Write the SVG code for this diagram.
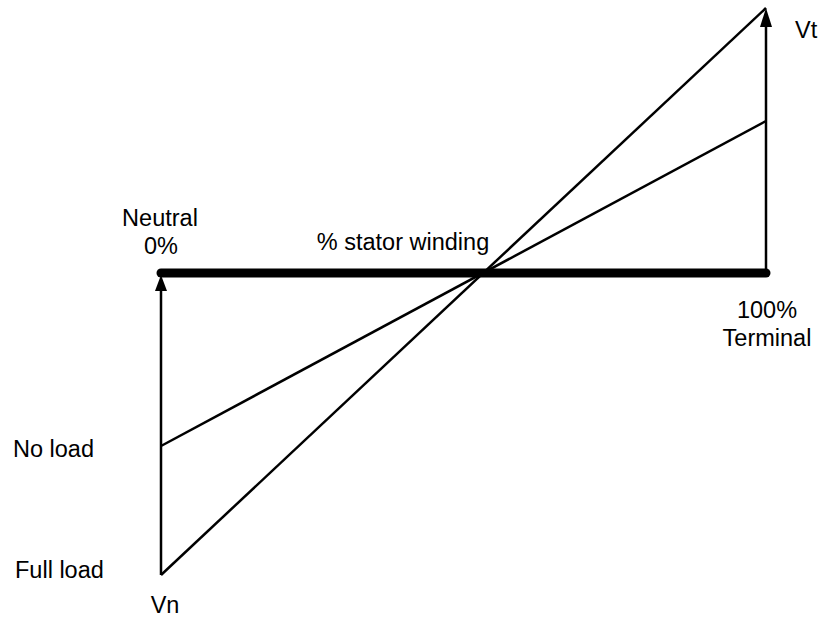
<svg xmlns="http://www.w3.org/2000/svg" width="819" height="617" viewBox="0 0 819 617">
  <style>
    .lbl { font-family: "Liberation Sans", Arial, sans-serif; font-size: 23.5px; fill: #000; }
    .mid { text-anchor: middle; }
    .thin { stroke: #000; stroke-width: 2.5; fill: none; }
    .thick { stroke: #000; stroke-width: 9; stroke-linecap: round; fill: none; }
    .arrowhead { fill: #000; }
  </style>
  <rect width="819" height="617" fill="#fff"/>
  <g id="connectors">
    <line class="thin" x1="161" y1="575" x2="161" y2="280"/>
    <line class="thin" x1="766" y1="273" x2="766" y2="20"/>
    <polygon class="arrowhead" points="161,275 167,291 155,291"/>
    <polygon class="arrowhead" points="766,8 772,27 760,27"/>
    <line id="full-load-line" class="thin" x1="161" y1="575" x2="766" y2="8"/>
    <line id="no-load-line" class="thin" x1="161" y1="446" x2="766" y2="121"/>
    <line id="stator-winding" class="thick" x1="161" y1="273" x2="766" y2="273"/>
  </g>
  <g id="neutral"><text class="lbl mid" x="160" y="226">Neutral</text><text class="lbl mid" x="161" y="254">0%</text></g>
  <g id="stator-label"><text class="lbl mid" x="403" y="250">% stator winding</text></g>
  <g id="terminal"><text class="lbl mid" x="767" y="318">100%</text><text class="lbl mid" x="767" y="346">Terminal</text></g>
  <g id="vt"><text class="lbl" x="795" y="38">Vt</text></g>
  <g id="no-load"><text class="lbl" x="13" y="457">No load</text></g>
  <g id="full-load"><text class="lbl" x="15" y="578">Full load</text></g>
  <g id="vn"><text class="lbl mid" x="165" y="613">Vn</text></g>
</svg>
